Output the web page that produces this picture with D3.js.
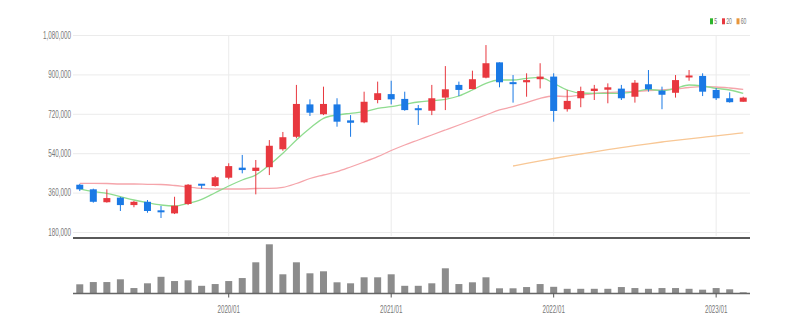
<!DOCTYPE html>
<html><head><meta charset="utf-8">
<script src="https://cdn.jsdelivr.net/npm/d3@7"></script>
<style>body{margin:0;background:#fff}svg{display:block}</style>
</head><body><svg id="c" width="794" height="330"></svg>
<script>
const months = ["2019/02","2019/03","2019/04","2019/05","2019/06","2019/07","2019/08","2019/09","2019/10","2019/11","2019/12",
"2020/01","2020/02","2020/03","2020/04","2020/05","2020/06","2020/07","2020/08","2020/09","2020/10","2020/11","2020/12",
"2021/01","2021/02","2021/03","2021/04","2021/05","2021/06","2021/07","2021/08","2021/09","2021/10","2021/11","2021/12",
"2022/01","2022/02","2022/03","2022/04","2022/05","2022/06","2022/07","2022/08","2022/09","2022/10","2022/11","2022/12",
"2023/01","2023/02","2023/03"];
const openP  = [396000,375000,316000,337000,303000,318000,279000,265000,308000,399000,390000,428000,474000,459000,476000,558000,615000,763000,718000,763000,690000,681000,783000,810000,788000,745000,734000,794000,852000,833000,885000,955000,864000,864000,878000,890000,741000,791000,824000,830000,835000,798000,855000,826000,816000,887000,893000,829000,791000,775000];
const highP  = [400000,378000,375000,340000,322000,326000,299000,341000,399000,399000,436000,494000,532000,509000,600000,637000,852000,786000,844000,791000,714000,821000,867000,871000,821000,760000,852000,938000,867000,917000,1034000,955000,897000,905000,951000,905000,829000,844000,852000,859000,852000,874000,920000,844000,897000,920000,905000,838000,818000,798000];
const lowP   = [367000,314000,314000,276000,293000,268000,244000,262000,303000,378000,387000,421000,448000,352000,440000,551000,608000,710000,714000,661000,615000,677000,768000,763000,734000,669000,714000,737000,801000,832000,882000,841000,771000,798000,836000,684000,730000,750000,783000,768000,783000,771000,821000,741000,794000,871000,801000,783000,771000,775000];
const closeP = [375000,318000,335000,303000,318000,276000,270000,300000,396000,393000,430000,481000,463000,474000,574000,613000,765000,725000,765000,684000,679000,775000,814000,786000,737000,737000,791000,832000,829000,878000,951000,864000,856000,874000,890000,733000,779000,824000,835000,841000,791000,862000,832000,807000,874000,894000,821000,791000,773000,794000];
const volume = [360,450,450,560,210,400,660,490,520,300,370,490,610,1240,1960,760,1240,800,880,440,400,640,640,760,300,300,400,1000,370,440,640,200,200,250,370,260,180,180,180,180,250,210,180,210,210,180,145,210,160,40];
const ma5  = [376500,364100,356800,341300,326200,313900,303400,298800,311100,329400,359500,390200,417600,440400,486100,539500,600300,653800,699400,714500,722300,729600,745100,752400,763400,773900,779900,786300,801300,828700,859300,874400,874400,882200,886800,859300,828700,815000,813700,813700,813700,820900,831900,825500,836500,851600,847000,836500,828700,813700];
const ma20 = [402500,402500,401600,399300,399300,397900,397000,392400,385600,379600,376500,376500,376500,378700,379600,384200,401600,424400,440400,455500,477000,499800,524000,552300,577500,600300,623200,646000,668800,691700,714500,737400,752400,770700,790800,801300,799000,805900,812700,817300,819600,821900,826400,828700,833300,840200,843800,842400,837900,831900];
const ma60 = [null,null,null,null,null,null,null,null,null,null,null,null,null,null,null,null,null,null,null,null,null,null,null,null,null,null,null,null,null,null,null,null,481500,493400,504800,515800,526300,536400,546400,556000,565100,574300,583000,591200,599000,605800,612700,619500,626300,633200];
const yTicks = [180000,360000,540000,720000,900000,1080000];
const xTicks = ["2020/01","2021/01","2022/01","2023/01"];
const legendLabels = ["5","20","60"];
const legendColors = ["#2db52d","#e8383f","#e8963a"];
const maColors = ["#8fdc8f","#f5a5ab","#f8c795"];

const svg = d3.select("#c");
const L = 73, R = 750;
const x = d3.scaleBand().domain(months).range([L, R]).padding(0);
const cx = m => x(m) + x.bandwidth()/2;
const y = d3.scaleLinear().domain([180000,1080000]).range([232,35]);
const yv = d3.scaleLinear().domain([0, d3.max(volume)]).range([293.3, 244.3]);

function squeeze(sel, f){
  sel.each(function(){
    const l = this.getComputedTextLength();
    this.setAttribute("textLength", l*f);
    this.setAttribute("lengthAdjust","spacingAndGlyphs");
  });
}

// horizontal grid
const grid = svg.append("g").attr("transform",`translate(${L},0)`)
  .call(d3.axisLeft(y).tickValues(yTicks).tickSize(-(R-L)).tickFormat(""));
grid.select(".domain").remove();
grid.selectAll("line").attr("stroke","#ebebeb");

// vertical grid at year ticks
svg.append("g").selectAll("line").data(xTicks).join("line")
  .attr("x1",d=>cx(d)).attr("x2",d=>cx(d)).attr("y1",35).attr("y2",236)
  .attr("stroke","#ebebeb");

// y labels
const ya = svg.append("g").attr("transform",`translate(${L},0)`)
  .call(d3.axisLeft(y).tickValues(yTicks).tickSize(0).tickPadding(2).tickFormat(d3.format(",")));
ya.select(".domain").remove();
ya.selectAll("text").attr("fill","#777").style("font-family","Liberation Sans, Arial, sans-serif").style("font-size","10px");
squeeze(ya.selectAll("text"), 0.63);

// MA lines
const line = d3.line().defined(d=>d.v!=null).x(d=>cx(d.m)).y(d=>y(d.v)).curve(d3.curveMonotoneX);
[ma60, ma20, ma5].forEach((arr,i)=>{
  const col = [maColors[2],maColors[1],maColors[0]][i];
  svg.append("path").datum(arr.map((v,j)=>({m:months[j],v})))
    .attr("d",line).attr("fill","none").attr("stroke",col).attr("stroke-width",1.3);
});

// candles
const up = "#e8383f", down = "#1a79e5";
const bw = 7;
const cg = svg.append("g");
months.forEach((m,i)=>{
  const col = closeP[i] >= openP[i] ? up : down;
  cg.append("line").attr("x1",cx(m)).attr("x2",cx(m)).attr("y1",y(highP[i])).attr("y2",y(lowP[i]))
    .attr("stroke",col).attr("stroke-width",1);
  const top = y(Math.max(openP[i],closeP[i])), bot = y(Math.min(openP[i],closeP[i]));
  const h = Math.max(2, bot-top);
  cg.append("rect").attr("x",cx(m)-bw/2).attr("y",(top+bot)/2-h/2).attr("width",bw).attr("height",h).attr("fill",col);
});

// separator line
svg.append("line").attr("x1",L).attr("x2",R).attr("y1",238).attr("y2",238).attr("stroke","#222").attr("stroke-width",1.6);

// volume bars
svg.append("g").selectAll("rect").data(volume).join("rect")
  .attr("x",(d,i)=>cx(months[i])-3.5).attr("width",7)
  .attr("y",d=>yv(d)).attr("height",d=>yv(0)-yv(d))
  .attr("fill","#8c8c8c");

// volume baseline
svg.append("line").attr("x1",L).attr("x2",R).attr("y1",293.5).attr("y2",293.5).attr("stroke","#666").attr("stroke-width",1.5);

// x axis
const xa = svg.append("g").attr("transform","translate(0,293.5)")
  .call(d3.axisBottom(x).tickValues(xTicks).tickSize(4).tickPadding(8));
xa.select(".domain").remove();
xa.selectAll(".tick").attr("transform",d=>`translate(${cx(d)},0)`);
xa.selectAll("line").attr("stroke","#555");
xa.selectAll("text").attr("fill","#777").style("font-family","Liberation Sans, Arial, sans-serif").style("font-size","10px");
squeeze(xa.selectAll("text"), 0.62);

// legend
const lg = svg.append("g");
const lx = [710, 722, 736.5];
legendLabels.forEach((t,i)=>{
  lg.append("rect").attr("x",lx[i]).attr("y",18.3).attr("width",3).attr("height",6).attr("fill",legendColors[i]);
  const tx = lg.append("text").attr("x",lx[i]+4.2).attr("y",24.3).text(t)
    .attr("fill","#777").style("font-family","Liberation Sans, Arial, sans-serif").style("font-size","8.5px");
  squeeze(tx, 0.6);
});
</script>
</body></html>
